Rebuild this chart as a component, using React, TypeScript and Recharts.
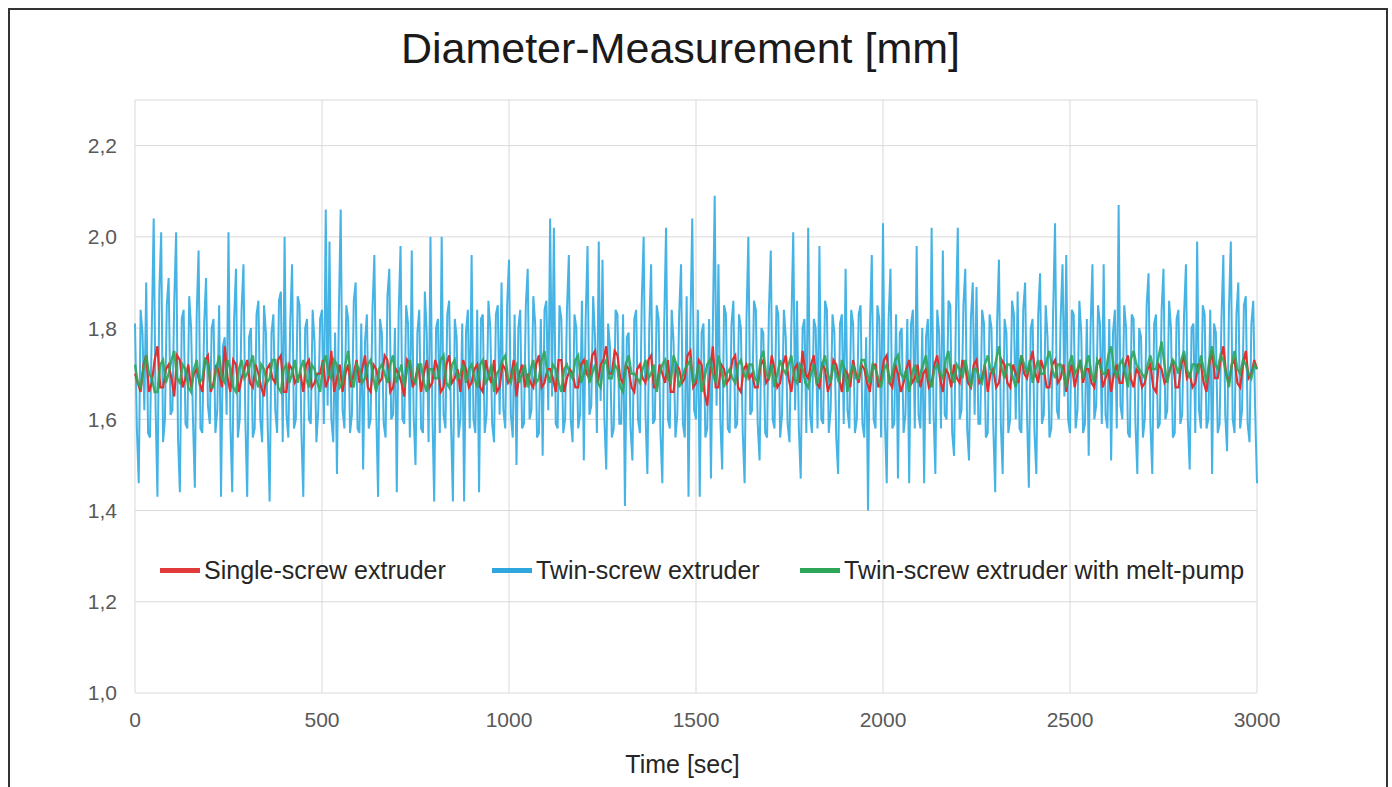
import React from 'react'
import { LineChart, Line, XAxis, YAxis, CartesianGrid, Legend } from 'recharts'

// readings every 10 s (twin-screw) and every 15 s (steadier lines),
// plus the readings half a step later in the *Mid arrays
const TWIN_STEP = 10
const STEADY_STEP = 15

const twinScrew = [
  1.81, 1.46, 1.79, 1.90, 1.56, 2.04, 1.43, 2.01, 1.60, 1.91,
  1.62, 2.01, 1.44, 1.84, 1.58, 1.80, 1.45, 1.97, 1.57, 1.91,
  1.59, 1.82, 1.62, 1.43, 1.78, 2.01, 1.44, 1.93, 1.60, 1.94,
  1.43, 1.80, 1.58, 1.86, 1.55, 1.79, 1.42, 1.83, 1.57, 1.88,
  2.00, 1.56, 1.94, 1.60, 1.85, 1.43, 1.82, 1.59, 1.77, 1.62,
  1.84, 2.06, 1.99, 1.55, 1.48, 2.06, 1.58, 1.82, 1.61, 1.90,
  1.57, 1.49, 1.83, 1.60, 1.96, 1.43, 1.79, 1.56, 1.93, 1.61,
  1.44, 1.98, 1.59, 1.81, 1.97, 1.50, 1.84, 1.57, 1.79, 2.00,
  1.42, 1.82, 2.00, 1.58, 1.86, 1.42, 1.78, 1.60, 1.42, 1.84,
  1.96, 1.57, 1.44, 1.83, 1.61, 1.80, 1.55, 1.85, 1.90, 1.58,
  1.95, 1.56, 1.50, 1.84, 1.59, 1.93, 1.62, 1.81, 1.57, 1.52,
  1.86, 2.04, 2.02, 1.58, 1.82, 1.60, 1.96, 1.55, 1.80, 1.61,
  1.51, 1.98, 1.63, 1.78, 1.99, 1.95, 1.49, 1.76, 1.58, 1.83,
  1.59, 1.41, 1.79, 1.51, 1.84, 1.57, 2.00, 1.48, 1.94, 1.60,
  1.82, 1.46, 2.02, 1.58, 1.77, 1.61, 1.94, 1.56, 1.43, 2.04,
  1.60, 1.43, 1.81, 1.58, 1.47, 2.09, 1.94, 1.49, 1.83, 1.57,
  1.86, 1.59, 1.80, 1.46, 2.00, 1.62, 1.84, 1.51, 1.79, 1.56,
  1.97, 1.58, 1.83, 1.61, 1.78, 1.55, 2.01, 1.86, 1.47, 1.82,
  2.02, 1.57, 1.80, 1.98, 1.59, 1.84, 1.62, 1.79, 1.48, 1.83,
  1.93, 1.58, 1.81, 1.60, 1.85, 1.56, 1.40, 1.96, 1.58, 1.82,
  2.03, 1.46, 1.93, 1.59, 1.47, 1.80, 1.61, 1.46, 1.84, 1.98,
  1.58, 1.46, 1.82, 2.02, 1.48, 1.79, 1.97, 1.60, 1.85, 1.52,
  2.02, 1.62, 1.93, 1.51, 1.90, 1.89, 1.59, 1.81, 1.57, 1.80,
  1.44, 1.95, 1.48, 1.79, 1.60, 1.83, 1.88, 1.57, 1.90, 1.45,
  1.82, 1.48, 1.92, 1.61, 1.78, 1.58, 2.03, 1.60, 1.94, 1.96,
  1.57, 1.83, 1.62, 1.79, 1.59, 1.52, 1.94, 1.63, 1.81, 1.94,
  1.58, 1.51, 1.84, 2.07, 1.60, 1.80, 1.56, 1.82, 1.48, 1.78,
  1.60, 1.92, 1.48, 1.83, 1.59, 1.93, 1.62, 1.80, 1.57, 1.84,
  1.61, 1.94, 1.49, 1.81, 1.99, 1.58, 1.83, 1.60, 1.48, 1.79,
  1.59, 1.96, 1.53, 1.99, 1.57, 1.90, 1.62, 1.87, 1.55, 1.86,
  1.46,
]

const twinScrewMid = [
  1.58, 1.84, 1.62, 1.57, 1.80, 1.63, 1.88, 1.55, 1.85, 1.61,
  1.86, 1.56, 1.82, 1.59, 1.87, 1.60, 1.83, 1.58, 1.81, 1.63,
  1.80, 1.57, 1.85, 1.76, 1.61, 1.59, 1.82, 1.56, 1.84, 1.60,
  1.78, 1.56, 1.83, 1.60, 1.85, 1.58, 1.79, 1.62, 1.86, 1.55,
  1.61, 1.81, 1.58, 1.87, 1.57, 1.80, 1.60, 1.84, 1.55, 1.82,
  1.59, 1.63, 1.60, 1.79, 1.83, 1.62, 1.85, 1.57, 1.86, 1.58,
  1.81, 1.77, 1.58, 1.84, 1.62, 1.82, 1.59, 1.87, 1.60, 1.80,
  1.83, 1.60, 1.85, 1.56, 1.61, 1.79, 1.58, 1.88, 1.55, 1.62,
  1.80, 1.57, 1.61, 1.83, 1.59, 1.82, 1.56, 1.81, 1.79, 1.58,
  1.60, 1.84, 1.82, 1.57, 1.86, 1.59, 1.83, 1.61, 1.62, 1.85,
  1.61, 1.83, 1.80, 1.58, 1.85, 1.60, 1.87, 1.56, 1.82, 1.84,
  1.62, 1.65, 1.59, 1.85, 1.57, 1.84, 1.60, 1.83, 1.58, 1.86,
  1.82, 1.61, 1.87, 1.57, 1.64, 1.60, 1.81, 1.56, 1.84, 1.59,
  1.83, 1.78, 1.58, 1.82, 1.60, 1.86, 1.61, 1.80, 1.59, 1.85,
  1.57, 1.81, 1.60, 1.84, 1.56, 1.83, 1.59, 1.87, 1.80, 1.62,
  1.84, 1.79, 1.56, 1.82, 1.80, 1.63, 1.60, 1.85, 1.58, 1.81,
  1.58, 1.83, 1.57, 1.82, 1.61, 1.86, 1.59, 1.80, 1.57, 1.84,
  1.60, 1.85, 1.56, 1.84, 1.59, 1.81, 1.62, 1.58, 1.80, 1.57,
  1.61, 1.82, 1.58, 1.60, 1.86, 1.57, 1.83, 1.56, 1.81, 1.59,
  1.62, 1.84, 1.57, 1.83, 1.59, 1.78, 1.80, 1.60, 1.85, 1.56,
  1.60, 1.82, 1.58, 1.83, 1.79, 1.57, 1.82, 1.81, 1.58, 1.61,
  1.80, 1.78, 1.59, 1.62, 1.84, 1.58, 1.61, 1.86, 1.57, 1.83,
  1.60, 1.85, 1.58, 1.82, 1.61, 1.59, 1.84, 1.56, 1.83, 1.58,
  1.81, 1.59, 1.82, 1.57, 1.86, 1.60, 1.58, 1.84, 1.61, 1.80,
  1.57, 1.83, 1.59, 1.85, 1.56, 1.84, 1.62, 1.82, 1.65, 1.60,
  1.84, 1.58, 1.86, 1.57, 1.82, 1.80, 1.60, 1.85, 1.59, 1.61,
  1.82, 1.79, 1.58, 1.63, 1.85, 1.57, 1.83, 1.59, 1.80, 1.56,
  1.85, 1.59, 1.81, 1.58, 1.84, 1.60, 1.86, 1.56, 1.82, 1.59,
  1.83, 1.60, 1.80, 1.57, 1.62, 1.85, 1.58, 1.84, 1.81, 1.57,
  1.82, 1.61, 1.84, 1.60, 1.83, 1.58, 1.85, 1.59, 1.81, 1.62,
]

const singleScrew = [
  1.70, 1.66, 1.74, 1.68, 1.76, 1.67, 1.72, 1.65, 1.73, 1.69,
  1.67, 1.71, 1.66, 1.74, 1.68, 1.70, 1.76, 1.66, 1.72, 1.69,
  1.73, 1.67, 1.70, 1.65, 1.72, 1.68, 1.74, 1.66, 1.71, 1.69,
  1.66, 1.73, 1.68, 1.70, 1.67, 1.75, 1.69, 1.66, 1.72, 1.70,
  1.68, 1.74, 1.66, 1.71, 1.69, 1.73, 1.67, 1.70, 1.65, 1.72,
  1.69, 1.66, 1.73, 1.68, 1.71, 1.67, 1.74, 1.69, 1.66, 1.71,
  1.68, 1.72, 1.66, 1.70, 1.73, 1.67, 1.71, 1.69, 1.65, 1.72,
  1.70, 1.67, 1.74, 1.68, 1.71, 1.66, 1.73, 1.69, 1.70, 1.67,
  1.73, 1.69, 1.75, 1.72, 1.76, 1.70, 1.74, 1.68, 1.71, 1.66,
  1.72, 1.68, 1.74, 1.67, 1.70, 1.73, 1.66, 1.71, 1.69, 1.75,
  1.68, 1.72, 1.63, 1.76, 1.67, 1.71, 1.69, 1.74, 1.66, 1.72,
  1.70, 1.67, 1.73, 1.69, 1.71, 1.68, 1.74, 1.66, 1.72, 1.75,
  1.69, 1.74, 1.67, 1.71, 1.68, 1.72, 1.66, 1.70, 1.73, 1.68,
  1.71, 1.66, 1.72, 1.69, 1.74, 1.67, 1.70, 1.68, 1.73, 1.69,
  1.67, 1.71, 1.68, 1.74, 1.66, 1.70, 1.72, 1.68, 1.71, 1.67,
  1.73, 1.69, 1.66, 1.71, 1.68, 1.72, 1.67, 1.70, 1.74, 1.69,
  1.75, 1.68, 1.71, 1.67, 1.73, 1.69, 1.66, 1.72, 1.70, 1.68,
  1.71, 1.67, 1.73, 1.69, 1.66, 1.72, 1.68, 1.74, 1.67, 1.70,
  1.68, 1.72, 1.66, 1.71, 1.69, 1.73, 1.67, 1.74, 1.70, 1.68,
  1.72, 1.66, 1.75, 1.69, 1.76, 1.68, 1.73, 1.67, 1.75, 1.70,
  1.71,
]

const singleScrewMid = [
  1.68, 1.72, 1.66, 1.73, 1.67, 1.71, 1.69, 1.74, 1.67, 1.72,
  1.70, 1.68, 1.73, 1.66, 1.72, 1.67, 1.69, 1.73, 1.66, 1.71,
  1.68, 1.72, 1.67, 1.71, 1.69, 1.73, 1.66, 1.72, 1.68, 1.70,
  1.72, 1.67, 1.70, 1.73, 1.69, 1.66, 1.72, 1.70, 1.67, 1.73,
  1.71, 1.67, 1.72, 1.68, 1.74, 1.66, 1.71, 1.68, 1.73, 1.67,
  1.72, 1.70, 1.67, 1.73, 1.66, 1.72, 1.68, 1.71, 1.73, 1.67,
  1.71, 1.67, 1.73, 1.68, 1.66, 1.72, 1.68, 1.73, 1.70, 1.67,
  1.68, 1.72, 1.67, 1.71, 1.69, 1.73, 1.66, 1.71, 1.67, 1.72,
  1.70, 1.74, 1.68, 1.73, 1.70, 1.75, 1.69, 1.72, 1.67, 1.71,
  1.69, 1.73, 1.67, 1.72, 1.68, 1.66, 1.72, 1.68, 1.74, 1.67,
  1.73, 1.66, 1.70, 1.67, 1.72, 1.68, 1.73, 1.67, 1.71, 1.69,
  1.67, 1.72, 1.68, 1.74, 1.67, 1.72, 1.69, 1.71, 1.68, 1.70,
  1.72, 1.68, 1.72, 1.66, 1.73, 1.69, 1.71, 1.67, 1.70, 1.72,
  1.68, 1.72, 1.67, 1.73, 1.68, 1.72, 1.66, 1.71, 1.68, 1.72,
  1.70, 1.67, 1.72, 1.69, 1.71, 1.67, 1.69, 1.73, 1.68, 1.72,
  1.68, 1.72, 1.70, 1.67, 1.73, 1.68, 1.72, 1.68, 1.70, 1.72,
  1.70, 1.73, 1.67, 1.72, 1.68, 1.72, 1.70, 1.67, 1.73, 1.71,
  1.68, 1.72, 1.67, 1.71, 1.70, 1.68, 1.72, 1.69, 1.71, 1.67,
  1.71, 1.67, 1.72, 1.68, 1.71, 1.67, 1.72, 1.69, 1.67, 1.72,
  1.68, 1.72, 1.69, 1.73, 1.70, 1.72, 1.68, 1.72, 1.69, 1.73,
]

const meltPump = [
  1.72, 1.67, 1.74, 1.69, 1.66, 1.73, 1.70, 1.75, 1.68, 1.71,
  1.66, 1.73, 1.69, 1.72, 1.67, 1.74, 1.68, 1.71, 1.66, 1.73,
  1.70, 1.74, 1.67, 1.71, 1.69, 1.73, 1.66, 1.72, 1.70, 1.68,
  1.73, 1.67, 1.71, 1.66, 1.74, 1.69, 1.72, 1.68, 1.75, 1.67,
  1.71, 1.69, 1.73, 1.66, 1.72, 1.68, 1.74, 1.70, 1.67, 1.73,
  1.68, 1.72, 1.66, 1.71, 1.69, 1.74, 1.67, 1.73, 1.70, 1.68,
  1.72, 1.67, 1.73, 1.69, 1.66, 1.71, 1.74, 1.68, 1.72, 1.70,
  1.67, 1.73, 1.69, 1.75, 1.68, 1.71, 1.66, 1.72, 1.69, 1.74,
  1.70, 1.68, 1.72, 1.67, 1.73, 1.69, 1.71, 1.66, 1.74, 1.70,
  1.68, 1.73, 1.70, 1.66, 1.72, 1.69, 1.74, 1.67, 1.71, 1.73,
  1.69, 1.66, 1.72, 1.70, 1.74, 1.67, 1.71, 1.68, 1.73, 1.69,
  1.72, 1.68, 1.75, 1.69, 1.67, 1.73, 1.70, 1.74, 1.68, 1.71,
  1.67, 1.72, 1.69, 1.74, 1.68, 1.70, 1.73, 1.66, 1.72, 1.69,
  1.73, 1.68, 1.71, 1.67, 1.72, 1.70, 1.74, 1.69, 1.66, 1.72,
  1.70, 1.74, 1.67, 1.72, 1.69, 1.75, 1.68, 1.71, 1.73, 1.67,
  1.71, 1.68, 1.74, 1.70, 1.76, 1.69, 1.72, 1.67, 1.74, 1.70,
  1.68, 1.73, 1.70, 1.75, 1.69, 1.72, 1.67, 1.74, 1.71, 1.69,
  1.74, 1.68, 1.72, 1.70, 1.76, 1.69, 1.73, 1.67, 1.75, 1.71,
  1.69, 1.74, 1.71, 1.77, 1.68, 1.73, 1.70, 1.75, 1.69, 1.72,
  1.74, 1.68, 1.76, 1.71, 1.73, 1.67, 1.75, 1.70, 1.72, 1.69,
  1.71,
]

const meltPumpMid = [
  1.68, 1.71, 1.70, 1.66, 1.72, 1.68, 1.73, 1.69, 1.72, 1.67,
  1.71, 1.68, 1.73, 1.67, 1.71, 1.69, 1.73, 1.67, 1.71, 1.69,
  1.72, 1.69, 1.72, 1.68, 1.73, 1.67, 1.71, 1.68, 1.73, 1.71,
  1.69, 1.72, 1.68, 1.72, 1.70, 1.73, 1.67, 1.72, 1.69, 1.72,
  1.68, 1.72, 1.69, 1.71, 1.70, 1.72, 1.68, 1.72, 1.71, 1.69,
  1.72, 1.68, 1.71, 1.69, 1.73, 1.68, 1.72, 1.69, 1.72, 1.71,
  1.69, 1.72, 1.68, 1.72, 1.70, 1.73, 1.69, 1.71, 1.68, 1.72,
  1.71, 1.68, 1.73, 1.70, 1.72, 1.68, 1.71, 1.70, 1.73, 1.68,
  1.73, 1.70, 1.68, 1.72, 1.69, 1.72, 1.67, 1.72, 1.70, 1.69,
  1.71, 1.69, 1.72, 1.70, 1.73, 1.68, 1.72, 1.69, 1.72, 1.68,
  1.72, 1.69, 1.73, 1.68, 1.71, 1.70, 1.69, 1.72, 1.70, 1.72,
  1.69, 1.73, 1.70, 1.72, 1.70, 1.71, 1.72, 1.69, 1.72, 1.68,
  1.70, 1.68, 1.72, 1.70, 1.72, 1.68, 1.71, 1.70, 1.69, 1.73,
  1.70, 1.72, 1.69, 1.71, 1.68, 1.73, 1.70, 1.71, 1.70, 1.68,
  1.72, 1.69, 1.71, 1.70, 1.73, 1.70, 1.72, 1.69, 1.70, 1.71,
  1.69, 1.72, 1.71, 1.73, 1.71, 1.72, 1.69, 1.71, 1.72, 1.73,
  1.71, 1.70, 1.73, 1.71, 1.72, 1.70, 1.72, 1.70, 1.73, 1.72,
  1.70, 1.73, 1.70, 1.74, 1.71, 1.72, 1.70, 1.73, 1.72, 1.70,
  1.72, 1.71, 1.74, 1.72, 1.71, 1.72, 1.73, 1.71, 1.72, 1.70,
  1.71, 1.73, 1.72, 1.74, 1.70, 1.72, 1.71, 1.73, 1.70, 1.72,
]

const xTicks = [0, 500, 1000, 1500, 2000, 2500, 3000]
const yTicks = [1.0, 1.2, 1.4, 1.6, 1.8, 2.0, 2.2]

const legendItems = [
  { label: 'Single-screw extruder', color: '#e03a3a', left: 150 },
  { label: 'Twin-screw extruder', color: '#2fa6dd', left: 482 },
  { label: 'Twin-screw extruder with melt-pump', color: '#2ea65a', left: 790 },
]

// put each reading and the one half a step later in time order
const toRows = (values: number[], mid: number[], step: number) =>
  values.flatMap((v, i) =>
    i < mid.length ? [{ t: i * step, v }, { t: i * step + step / 2, v: mid[i] }] : [{ t: i * step, v }]
  )

const twinRows = toRows(twinScrew, twinScrewMid, TWIN_STEP)
const singleRows = toRows(singleScrew, singleScrewMid, STEADY_STEP)
const pumpRows = toRows(meltPump, meltPumpMid, STEADY_STEP)

const font = '"Liberation Sans", Arial, sans-serif'

const LegendBox = () => (
  <div style={{ position: 'relative', height: 0 }}>
    {legendItems.map((item) => (
      <div
        key={item.label}
        style={{
          position: 'absolute',
          left: item.left,
          top: 548,
          height: 25,
          display: 'flex',
          alignItems: 'center',
          whiteSpace: 'nowrap',
          fontFamily: font,
          fontSize: 25,
          lineHeight: '25px',
          color: '#262626',
        }}
      >
        <span style={{ display: 'inline-block', width: 40, height: 5, background: item.color, marginRight: 4 }} />
        {item.label}
      </div>
    ))}
  </div>
)

export default function App() {
  return (
    <div
      style={{
        position: 'fixed',
        left: 8,
        top: 8,
        width: 1380,
        height: 779,
        boxSizing: 'border-box',
        borderTop: '2px solid #333',
        borderLeft: '2px solid #333',
        borderRight: '2px solid #333',
        background: '#fff',
        fontFamily: font,
      }}
    >
      <div
        style={{
          position: 'absolute',
          left: 0,
          top: 17,
          width: 1341,
          textAlign: 'center',
          fontSize: 43,
          lineHeight: '43px',
          color: '#1a1a1a',
        }}
      >
        Diameter-Measurement [mm]
      </div>
      <div style={{ position: 'absolute', left: 0, top: 0 }}>
        <LineChart width={1370} height={761} margin={{ top: 90, right: 123, bottom: 38, left: 65 }}>
          <CartesianGrid stroke="#d9d9d9" strokeWidth={1} />
          <XAxis
            type="number"
            dataKey="t"
            domain={[0, 3000]}
            ticks={xTicks}
            height={40}
            axisLine={false}
            tickLine={false}
            tickSize={6}
            tickMargin={13}
            tick={{ fill: '#595959', fontSize: 21, fontFamily: font }}
          />
          <YAxis
            type="number"
            domain={[1, 2.3]}
            ticks={yTicks}
            width={60}
            axisLine={false}
            tickLine={false}
            tickSize={6}
            tickMargin={12}
            tickFormatter={(v: number) => v.toFixed(1).replace('.', ',')}
            tick={{ fill: '#595959', fontSize: 21, fontFamily: font }}
          />
          <Legend content={() => <LegendBox />} wrapperStyle={{ left: 0, top: 0, width: 1370, height: 0 }} />
          <Line data={twinRows} dataKey="v" name="Twin-screw extruder" type="linear" stroke="#45b3e4" strokeWidth={2} dot={false} isAnimationActive={false} />
          <Line data={singleRows} dataKey="v" name="Single-screw extruder" type="linear" stroke="#e03030" strokeWidth={2.2} dot={false} isAnimationActive={false} />
          <Line data={pumpRows} dataKey="v" name="Twin-screw extruder with melt-pump" type="linear" stroke="#2ea65a" strokeWidth={2.4} strokeOpacity={0.9} dot={false} isAnimationActive={false} />
        </LineChart>
      </div>
      <div
        style={{
          position: 'absolute',
          left: 0,
          top: 742,
          width: 1345,
          textAlign: 'center',
          fontSize: 25,
          lineHeight: '25px',
          color: '#262626',
        }}
      >
        Time [sec]
      </div>
    </div>
  )
}
